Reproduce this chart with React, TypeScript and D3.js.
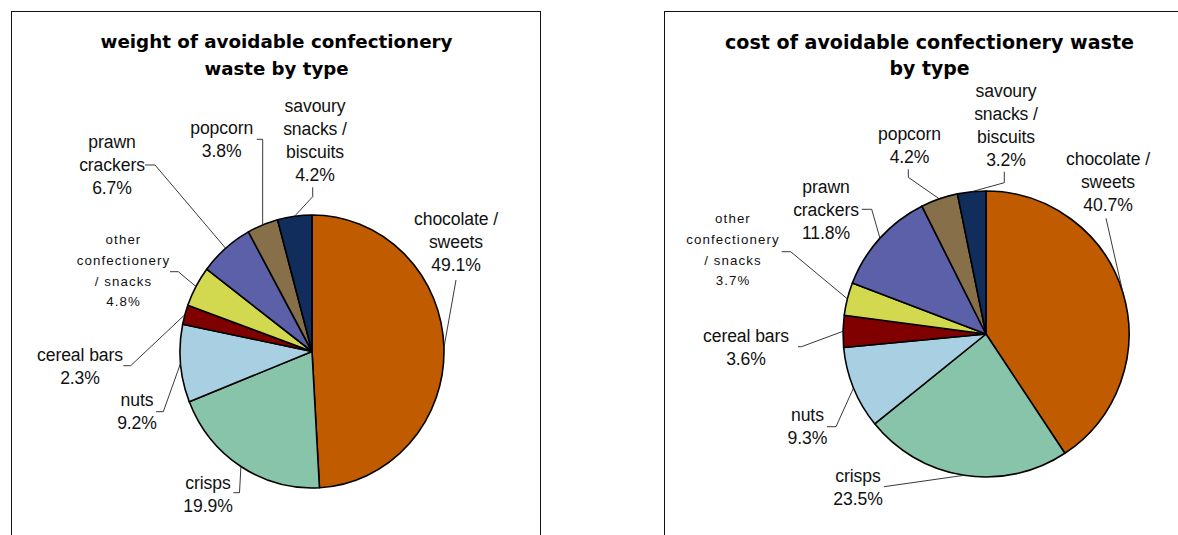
import React from "react";
import * as d3 from "d3";

// ---------- data ----------
const categories = [
  "chocolate / sweets",
  "crisps",
  "nuts",
  "cereal bars",
  "other confectionery / snacks",
  "prawn crackers",
  "popcorn",
  "savoury snacks / biscuits",
];
const labelLines = [
  ["chocolate /", "sweets"],
  ["crisps"],
  ["nuts"],
  ["cereal bars"],
  ["other", "confectionery", "/ snacks"],
  ["prawn", "crackers"],
  ["popcorn"],
  ["savoury", "snacks /", "biscuits"],
];
const weightShares = [49.1, 19.9, 9.2, 2.3, 4.8, 6.7, 3.8, 4.2];
const costShares = [40.7, 23.5, 9.3, 3.6, 3.7, 11.8, 4.2, 3.2];
const weightTitle = ["weight of avoidable confectionery", "waste by type"];
const costTitle = ["cost of avoidable confectionery waste", "by type"];

// ---------- styles / layout ----------
const sliceColors = ["#C05B00", "#88C4AA", "#A9CFE2", "#800000", "#D2D94F", "#5B60A8", "#877049", "#112D5C"];
const smallLabel = [false, false, false, false, true, false, false, false];

type P = [number, number];
interface Layout {
  frameX: number;
  titleX: number;
  titleY: number[];
  titleSize: number;
  titleLen: number[];
  cx: number;
  cy: number;
  rx: number;
  ry: number;
  labelPos: P[];
  leaders: P[][];
}

const weightLayout: Layout = {
  frameX: 11.5,
  titleX: 276.5,
  titleY: [41.7, 68.3],
  titleSize: 18,
  titleLen: [352, 144],
  cx: 312,
  cy: 351.5,
  rx: 132,
  ry: 136.5,
  labelPos: [
    [456, 218.3],
    [208, 483],
    [137, 400],
    [80, 354.5],
    [123.5, 239.3],
    [112, 142],
    [221.7, 128],
    [315, 105.5],
  ],
  leaders: [
    [[456, 280]],
    [[233.3, 492.7], [239.5, 492.7]],
    [[156, 411.7], [163.3, 411.7]],
    [[123.3, 365.7], [130.7, 365.7]],
    [[170, 271.7], [178.3, 271.7]],
    [[145, 165], [155, 165]],
    [[256.7, 139.3], [262.7, 139.3]],
    [[312.7, 187.3], [312.7, 196.7]],
  ],
};

const costLayout: Layout = {
  frameX: 664.5,
  titleX: 929.5,
  titleY: [41.7, 68.3],
  titleSize: 18.9,
  titleLen: [409, 80],
  cx: 986,
  cy: 334,
  rx: 143,
  ry: 143,
  labelPos: [
    [1108, 158.5],
    [858, 475.7],
    [807.4, 415],
    [746, 336],
    [733, 218.3],
    [826, 186.7],
    [909.5, 133.3],
    [1006, 90.7],
  ],
  leaders: [
    [[1106, 218.3]],
    [[884, 486.7]],
    [[827, 426.7], [836, 426.7]],
    [[798, 346.7], [801.5, 346.7]],
    [[781.7, 251.7], [790.7, 251.7]],
    [[861.7, 209.3], [871.7, 209.3]],
    [[908.3, 169.3], [908.3, 177.3]],
    [[1004.3, 171.7], [1004.3, 182.7]],
  ],
};

const LABEL_FONT = "'Liberation Sans', Arial, sans-serif";
const TITLE_FONT = "'DejaVu Sans', Verdana, sans-serif";

function PieChart({ values, title, layout }: { values: number[]; title: string[]; layout: Layout }) {
  const pie = d3.pie<number>().sort(null).value((d) => d)(values);
  const R = layout.ry;
  const sx = layout.rx / layout.ry;
  const arc = d3.arc<d3.PieArcDatum<number>>().innerRadius(0).outerRadius(R);
  const line = d3.line<P>();

  return (
    <g>
      <rect x={layout.frameX} y={11.5} width={layout.frameX < 100 ? 529 : 600} height={600} fill="#fff" stroke="#111" strokeWidth={1} />
      {title.map((t, i) => (
        <text
          key={i}
          x={layout.titleX}
          y={layout.titleY[i]}
          dy="0.36em"
          textAnchor="middle"
          fontFamily={TITLE_FONT}
          fontWeight="bold"
          fontSize={layout.titleSize}
          textLength={layout.titleLen[i]}
          lengthAdjust="spacingAndGlyphs"
          fill="#000"
        >
          {t}
        </text>
      ))}
      <g transform={`translate(${layout.cx},${layout.cy}) scale(${sx},1)`}>
        {pie.map((p, i) => (
          <path key={i} d={arc(p) || ""} fill={sliceColors[i]} stroke="#000" strokeWidth={1.6} strokeLinejoin="round" vectorEffect="non-scaling-stroke" />
        ))}
      </g>
      {pie.map((p, i) => {
        const a = (p.startAngle + p.endAngle) / 2;
        const edge: P = [layout.cx + layout.rx * Math.sin(a), layout.cy - layout.ry * Math.cos(a)];
        const pts: P[] = [...layout.leaders[i], edge];
        return <path key={i} d={line(pts) || ""} fill="none" stroke="#222" strokeWidth={0.9} />;
      })}
      {pie.map((p, i) => {
        const lines = [...labelLines[i], `${values[i].toFixed(1)}%`];
        const small = smallLabel[i];
        const lh = small ? 20.8 : 23;
        const [x, y] = layout.labelPos[i];
        return (
          <text
            key={i}
            fontFamily={LABEL_FONT}
            fontSize={small ? 13.3 : 17.6}
            letterSpacing={small ? 1.1 : -0.1}
            textAnchor="middle"
            fill="#111"
          >
            {lines.map((l, j) => (
              <tspan key={j} x={x} y={y + j * lh} dy="0.36em">
                {l}
              </tspan>
            ))}
          </text>
        );
      })}
    </g>
  );
}

export default function App() {
  return (
    <svg
      width={1178}
      height={535}
      viewBox="0 0 1178 535"
      style={{ position: "absolute", left: 0, top: 0, background: "#fff" }}
    >
      <rect x={0} y={0} width={1178} height={535} fill="#fff" />
      <PieChart values={weightShares} title={weightTitle} layout={weightLayout} />
      <PieChart values={costShares} title={costTitle} layout={costLayout} />
    </svg>
  );
}
